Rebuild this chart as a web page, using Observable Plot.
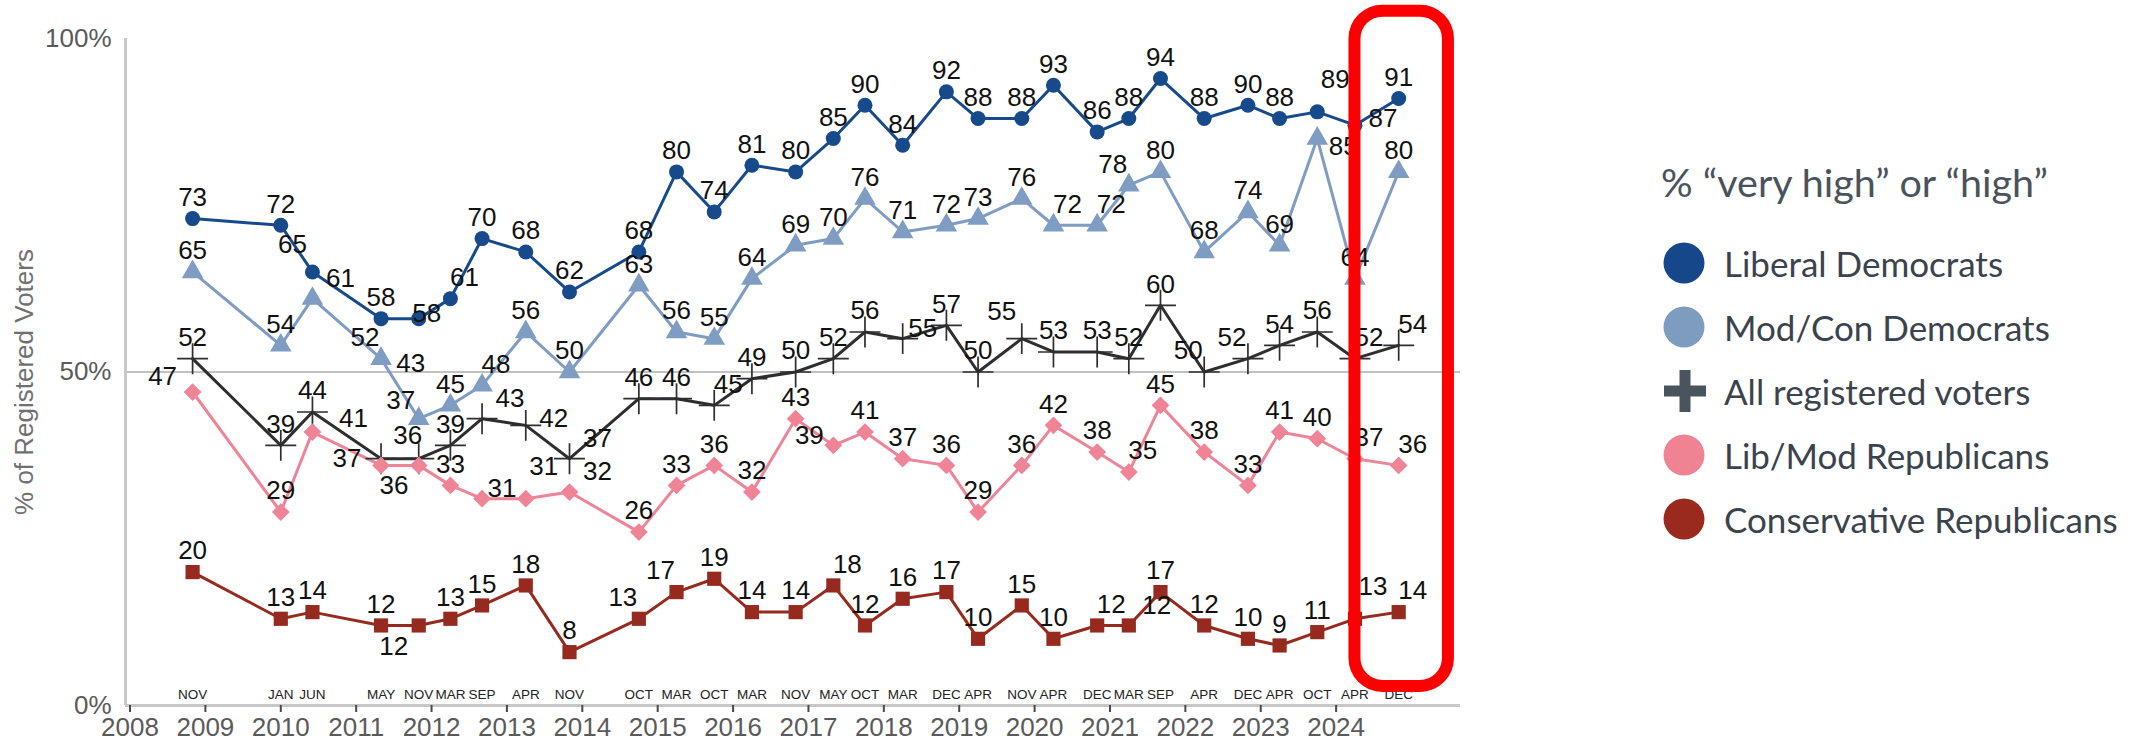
<!DOCTYPE html>
<html>
<head>
<meta charset="utf-8">
<script src="https://cdn.jsdelivr.net/npm/d3@7"></script>
<script src="https://cdn.jsdelivr.net/npm/@observablehq/plot@0.6"></script>
<style>
  html, body { margin: 0; padding: 0; background: #fff; }
  #wrap { position: relative; width: 2138px; height: 747px; overflow: hidden; background: #fff; }
  #chart { position: absolute; left: 0; top: 0; }
  #legend { position: absolute; left: 0; top: 0; width: 2138px; height: 747px; pointer-events: none;
            font-family: Lato, "Open Sans", sans-serif; color: #3a434e; }
  .lg-title { position: absolute; left: 1661px; top: 157px; font-size: 39.5px; line-height: 50px; color: #4a525c; white-space: nowrap; }
  .lg-row { position: absolute; left: 1663px; height: 64px; display: flex; align-items: center; white-space: nowrap; font-size: 35px; }
  .lg-row svg { width: 44px; height: 44px; margin-right: 17px; flex: none; }
</style>
</head>
<body>
<div id="wrap">
  <div id="chart"></div>
  <div id="legend"></div>
</div>
<script>
// ---------------- data ----------------
const surveyDates = [2008.83, 2010.0, 2010.42, 2011.33, 2011.83, 2012.25, 2012.67, 2013.25, 2013.83, 2014.75,
                     2015.25, 2015.75, 2016.25, 2016.83, 2017.33, 2017.75, 2018.25, 2018.83, 2019.25, 2019.83,
                     2020.25, 2020.83, 2021.25, 2021.67, 2022.25, 2022.83, 2023.25, 2023.75, 2024.25, 2024.83];
const monthLabels = ["NOV","JAN","JUN","MAY","NOV","MAR","SEP","APR","NOV","OCT",
                     "MAR","OCT","MAR","NOV","MAY","OCT","MAR","DEC","APR","NOV",
                     "APR","DEC","MAR","SEP","APR","DEC","APR","OCT","APR","DEC"];
const liberalDemocrats        = [73,72,65,58,58,61,70,68,62,68, 80,74,81,80,85,90,84,92,88,88, 93,86,88,94,88,90,88,89,87,91];
const modConDemocrats         = [65,54,61,52,43,45,48,56,50,63, 56,55,64,69,70,76,71,72,73,76, 72,72,78,80,68,74,69,85,64,80];
const allRegisteredVoters     = [52,39,44,37,37,39,43,42,37,46, 46,45,49,50,52,56,55,57,50,55, 53,53,52,60,50,52,54,56,52,54];
const libModRepublicans       = [47,29,41,36,36,33,31,31,32,26, 33,36,32,43,39,41,37,36,29,36, 42,38,35,45,38,33,41,40,37,36];
const conservativeRepublicans = [20,13,14,12,12,13,15,18, 8,13, 17,19,14,14,18,12,16,17,10,15, 10,12,12,17,12,10, 9,11,13,14];
const seriesNames = ["Liberal Democrats","Mod/Con Democrats","All registered voters","Lib/Mod Republicans","Conservative Republicans"];
const yearTicks = [2008,2009,2010,2011,2012,2013,2014,2015,2016,2017,2018,2019,2020,2021,2022,2023,2024];
const yTicks = [0,50,100];
const highlight = [{from: 2024.25, to: 2025.49, low: 2.85, high: 104.1}];

// ---------------- label placement (codes, not data) ----------------
const libDemPlace  = ["a","a","al2","a","o","ar","a","a","a","a", "a","a","a","a","a","a","a","a","a","a", "a","a","a","a","a","a","a","ar2","r","a"];
const modConPlace  = ["a","a","r2","al","A","a","ar","a","a","a", "a","a","a","a","a","a","a","a","a","a", "ar","ar","al","a","a","a","a","rb","a","a"];
const allPlace     = ["a","a","a","l","A2","a","r2","r","r2","a", "a","ar","a","a","a","a","ro","a","a","al2", "a","a","a","a","al","al","a","a","ar","ar"];
const libModPlace  = ["l2","a","R","br","u","a","ro","ar2","r2","a", "a","a","a","a","lo","a","a","a","a","a", "a","a","ar","a","a","a","a","a","ar","ar"];
const consPlace    = ["a","a","a","a","bl","a","a","a","a","al", "al","a","a","a","ar","a","a","a","a","a", "a","ar","r2","a","a","a","a","a","ar2","ar"];
const offsets = {
  a:[0,-21], ar:[14,-21], al:[-16,-21], al2:[-20,-27], ar2:[18,-32], r:[28,-7], r2:[28,-20], ro:[20,-10],
  o:[8,-5], l:[-34,0], l2:[-30,-15], lo:[-24,-10], R:[41,-13], br:[13,20], bl:[-25,21], rb:[26,8],
  u:[-11,-30], A:[-8,-55], A2:[-18,-58]
};

// ---------------- styling ----------------
const styles = [
  {values: liberalDemocrats,        place: libDemPlace, color: "#174a8b", symbol: "circle",   r: 7.5, fill: true},
  {values: modConDemocrats,         place: modConPlace, color: "#7f9dc2", symbol: "triangle", r: 8,   fill: true},
  {values: allRegisteredVoters,     place: allPlace,    color: "#2e2e2e", symbol: "plus",     r: 10,  fill: false},
  {values: libModRepublicans,       place: libModPlace, color: "#f08497", symbol: "diamond2", r: 8,   fill: true},
  {values: conservativeRepublicans, place: consPlace,   color: "#962a1f", symbol: "square",   r: 8,   fill: true}
];

const W = 1480, H = 747;
const xDomain = [2007.94, 2025.65];
const FONT = '"Liberation Sans", Arial, Helvetica, sans-serif';

const points = styles.flatMap((s, k) => s.values.map((v, i) => ({
  series: seriesNames[k], x: surveyDates[i], y: v, code: s.place[i]
})));

const marks = [];
marks.push(Plot.ruleY([50], {stroke: "#c2c2c2", strokeWidth: 2}));
marks.push(Plot.ruleX([xDomain[0]], {stroke: "#c8c8c8", strokeWidth: 3}));
marks.push(Plot.ruleY([0], {stroke: "#c8c8c8", strokeWidth: 3}));

styles.forEach((s, k) => {
  const data = points.filter(d => d.series === seriesNames[k]);
  marks.push(Plot.line(data, {x: "x", y: "y", stroke: s.color, strokeWidth: 3, curve: "linear"}));
});
styles.forEach((s, k) => {
  const data = points.filter(d => d.series === seriesNames[k]);
  if (s.fill) {
    marks.push(Plot.dot(data, {x: "x", y: "y", symbol: s.symbol, r: s.r, fill: s.color, stroke: "none"}));
  } else {
    marks.push(Plot.dot(data, {x: "x", y: "y", symbol: s.symbol, r: s.r, fill: "none", stroke: s.color, strokeWidth: 1.7}));
  }
});
for (const [code, [dx, dy]] of Object.entries(offsets)) {
  const data = points.filter(d => d.code === code);
  if (!data.length) continue;
  marks.push(Plot.text(data, {x: "x", y: "y", text: d => String(d.y), dx, dy,
    fontSize: 26, fill: "#111", textAnchor: "middle", lineAnchor: "middle", fontFamily: FONT}));
}
marks.push(Plot.text(surveyDates, {x: d => d, y: 0, text: (d, i) => monthLabels[i], dy: -11,
  fontSize: 13.5, fill: "#222", lineAnchor: "middle", fontFamily: FONT}));
marks.push(Plot.axisX(yearTicks, {tickFormat: d => String(d), tickSize: 7, tickPadding: 5,
  fontSize: 26, stroke: "#4a4a4a", fill: "#5a5a5a", strokeWidth: 2, label: null, fontFamily: FONT}));
marks.push(Plot.axisY(yTicks, {tickFormat: d => d + "%", tickSize: 0, tickPadding: 14,
  fontSize: 26, fill: "#5a5a5a", label: null, fontFamily: FONT}));
marks.push(Plot.text(["% of Registered Voters"], {frameAnchor: "left", rotate: -90, dx: -101, dy: 10,
  textAnchor: "middle", lineAnchor: "middle", fontSize: 26, fill: "#707070", fontFamily: FONT}));
marks.push(Plot.rect(highlight, {x1: "from", x2: "to", y1: "low", y2: "high",
  fill: "none", stroke: "#ff0000", strokeWidth: 12, rx: 28}));

const chart = Plot.plot({
  width: W, height: H,
  marginLeft: 125, marginRight: W - 1460, marginTop: 38, marginBottom: 42,
  x: {domain: xDomain},
  y: {domain: [0, 100]},
  style: {fontFamily: FONT, background: "#fff", overflow: "visible"},
  marks
});
document.getElementById("chart").appendChild(chart);

// ---------------- legend ----------------
const legend = document.getElementById("legend");
const title = document.createElement("div");
title.className = "lg-title";
title.textContent = "% \u201cvery high\u201d or \u201chigh\u201d";
legend.appendChild(title);
const legendColors = ["#15478a", "#7e9cc0", "#4a545e", "#ef8293", "#9a2a1e"];
seriesNames.forEach((name, i) => {
  const row = document.createElement("div");
  row.className = "lg-row";
  row.style.top = (231 + i * 64) + "px";
  const swatch = i === 2
    ? `<svg viewBox="0 0 44 44"><rect x="1" y="16.5" width="42" height="11" fill="${legendColors[i]}"/><rect x="16.5" y="1" width="11" height="42" fill="${legendColors[i]}"/></svg>`
    : `<svg viewBox="0 0 44 44"><circle cx="21" cy="22" r="20.5" fill="${legendColors[i]}"/></svg>`;
  row.innerHTML = swatch + `<span>${name}</span>`;
  legend.appendChild(row);
});
</script>
</body>
</html>
